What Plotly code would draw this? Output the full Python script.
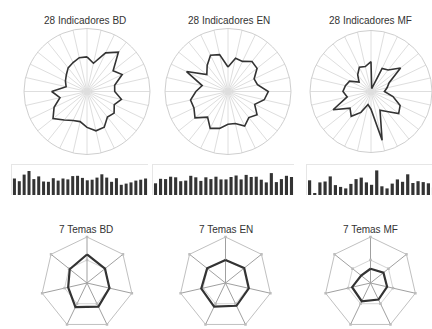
import plotly.graph_objects as go

# 28 indicators per group (share of maximum, 0-1), ordered clockwise from the top
indicadores = [f"I{i}" for i in range(1, 29)]
ind_bd = [.55, .46, .68, .80, .53, .62, .45, .44, .56, .48, .55, .52, .63, .64,
          .57, .49, .51, .58, .69, .58, .44, .56, .34, .38, .42, .48, .51, .55]
ind_en = [.39, .54, .53, .61, .59, .46, .48, .64, .59, .47, .59, .53, .61, .52,
          .52, .60, .65, .52, .67, .60, .61, .51, .42, .73, .43, .53, .64, .60]
ind_mf = [.49, .05, .42, .45, .62, .33, .27, .22, .37, .53, .58, .42, .34, .82,
          .29, .22, .38, .52, .44, .69, .40, .46, .43, .39, .25, .35, .44, .42]

# 7 themes per group
temas = [f"T{i}" for i in range(1, 8)]
tema_bd = [0.62, 0.50, 0.50, 0.57, 0.58, 0.42, 0.48]
tema_en = [0.50, 0.52, 0.52, 0.55, 0.57, 0.54, 0.51]
tema_mf = [0.31, 0.36, 0.37, 0.40, 0.44, 0.41, 0.26]

grupos = ["BD", "EN", "MF"]
ind_series = [ind_bd, ind_en, ind_mf]
tema_series = [tema_bd, tema_en, tema_mf]

W, H = 432, 329
DARK = "#333333"
FONT = "Liberation Sans, Arial, sans-serif"


def px_box(cx, cy, r):
    """Square domain (paper fractions) around a centre given in pixels from top-left."""
    return dict(x=[max(0, (cx - r) / W), min(1, (cx + r) / W)],
                y=[max(0, 1 - (cy + r) / H), min(1, 1 - (cy - r) / H)])


top_centres = [(87, 91.5, 63), (228, 91.5, 63), (371, 91.5, 61)]
bottom_centres = [(87, 283, 46), (225.5, 283, 46), (370.5, 283, 46)]
bar_x = [(12, 148, 27.5), (153, 294, 27.5), (307, 432, 23.7)]
top_titles_x = [85, 228.5, 370]
bottom_titles_x = [85.5, 225.8, 370]

fig = go.Figure()
layout = dict(width=W, height=H, margin=dict(l=0, r=0, t=0, b=0),
              paper_bgcolor="white", plot_bgcolor="white", showlegend=False,
              font=dict(family=FONT, color=DARK), bargap=0.38)
annotations = []

for i, g in enumerate(grupos):
    # --- 28-indicator circular radar ---
    pid = "polar" if i == 0 else f"polar{i + 1}"
    vals = ind_series[i]
    fig.add_trace(go.Scatterpolar(
        r=vals + vals[:1], theta=indicadores + indicadores[:1],
        mode="lines", line=dict(color=DARK, width=1.6),
        subplot=pid, hoverinfo="skip"))
    cx, cy, rr = top_centres[i]
    layout[pid] = dict(
        domain=px_box(cx, cy, rr), bgcolor="white",
        radialaxis=dict(visible=False, range=[0, 1]),
        angularaxis=dict(type="category", categoryarray=indicadores,
                         rotation=90, direction="clockwise",
                         showticklabels=False, ticks="",
                         showline=True, linecolor="#cfcfcf", linewidth=1,
                         gridcolor="#dedede", gridwidth=1))
    annotations.append(dict(text=f"28 Indicadores {g}", x=top_titles_x[i] / W, y=1 - 20 / H,
                            xref="paper", yref="paper", xanchor="center", yanchor="middle",
                            showarrow=False, font=dict(size=10, color=DARK, family=FONT)))

    # --- 7-theme heptagon radar ---
    pid2 = f"polar{i + 4}"
    tv = tema_series[i]
    cx2, cy2, rr2 = bottom_centres[i]
    # grid vertex ticks and centre point
    fig.add_trace(go.Scatterpolar(
        r=[0.5] * 7 + [1.0] * 7, theta=temas + temas, mode="markers",
        marker=dict(color="#b8b8b8", size=2.5, symbol="square"),
        subplot=pid2, hoverinfo="skip"))
    fig.add_trace(go.Scatterpolar(
        r=tv + tv[:1], theta=temas + temas[:1],
        mode="lines", line=dict(color=DARK, width=2.2),
        subplot=pid2, hoverinfo="skip"))
    fig.add_trace(go.Scatterpolar(
        r=[0], theta=[temas[0]], mode="markers",
        marker=dict(color=DARK, size=4, symbol="square"),
        subplot=pid2, hoverinfo="skip"))
    layout[pid2] = dict(
        domain=px_box(cx2, cy2, rr2), bgcolor="white", gridshape="linear",
        radialaxis=dict(range=[0, 1], tickvals=[0.5], showticklabels=False,
                        ticks="", showline=False, gridcolor="#d4d4d4"),
        angularaxis=dict(type="category", categoryarray=temas,
                         rotation=90, direction="clockwise",
                         showticklabels=False, ticks="",
                         showline=True, linecolor="#c0c0c0", linewidth=1,
                         gridcolor="#a0a0a0"))
    annotations.append(dict(text=f"7 Temas {g}", x=bottom_titles_x[i] / W, y=1 - 229 / H,
                            xref="paper", yref="paper", xanchor="center", yanchor="middle",
                            showarrow=False, font=dict(size=10, color=DARK, family=FONT)))

    # --- bar strip of the 28 indicators ---
    xa = "x" if i == 0 else f"x{i + 1}"
    ya = "y" if i == 0 else f"y{i + 1}"
    fig.add_trace(go.Bar(x=list(range(28)), y=vals, marker=dict(color=DARK, line=dict(width=0)),
                         xaxis=xa, yaxis=ya, hoverinfo="skip"))
    x0, x1, xmax = bar_x[i]
    xkey = "xaxis" if i == 0 else f"xaxis{i + 1}"
    ykey = "yaxis" if i == 0 else f"yaxis{i + 1}"
    layout[xkey] = dict(domain=[x0 / W, x1 / W], range=[-0.5, xmax],
                        anchor=ya, side="top", showline=True, linecolor="#e6e6e6",
                        showgrid=False, zeroline=False, showticklabels=False, ticks="")
    layout[ykey] = dict(domain=[1 - 195 / H, 1 - 165 / H], range=[0, 1.0],
                        anchor=xa, showline=True, linecolor="#e6e6e6",
                        showgrid=False, zeroline=False, showticklabels=False, ticks="")

layout["annotations"] = annotations
fig.update_layout(**layout)
fig.write_html("out.html")
